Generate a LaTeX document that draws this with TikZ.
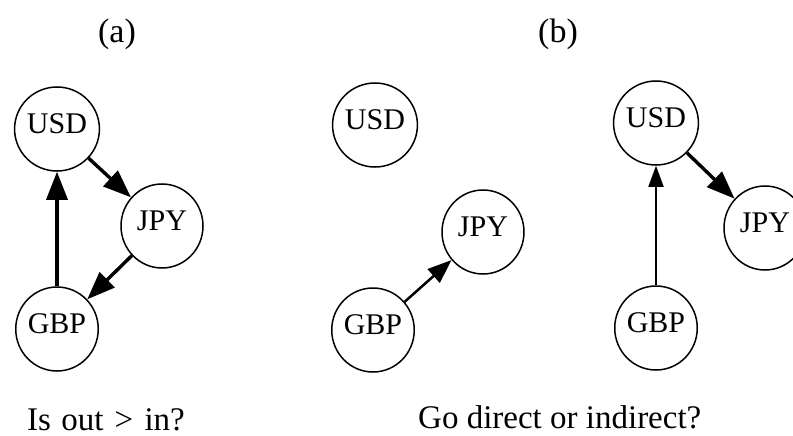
\documentclass[tikz,border=0pt]{standalone}
\usepackage{fontspec}
\setmainfont{Liberation Serif}
\usetikzlibrary{arrows.meta,shapes.geometric}
\tikzset{
  cur/.style={ellipse, draw, line width=1.5pt, minimum width=82pt, minimum height=84pt,
    inner sep=0pt, font=\fontsize{30}{34}\selectfont, text height=20pt, text depth=12pt},
  thick arr/.style={line width=3.4pt, -{Triangle[length=28pt,width=21pt]}},
  mid arr/.style={line width=2.5pt, -{Triangle[length=24pt,width=18pt]}},
  thin arr/.style={line width=1.8pt, -{Triangle[length=21pt,width=15pt]}},
  caption/.style={font=\fontsize{33}{38}\selectfont},
  panel/.style={font=\fontsize{34}{38}\selectfont, anchor=base}
}
\begin{document}
\begin{tikzpicture}[x=1pt,y=-1pt]
\useasboundingbox (0,0) rectangle (793,436);
% panel (a)
\node[cur] (aU) at (57,129) {USD};
\node[cur] (aJ) at (162,226) {JPY};
\node[cur] (aG) at (57,329) {GBP};
\draw[thick arr] (aU) -- (aJ);
\draw[thick arr] (aJ) -- (aG);
\draw[thick arr] (aG) -- (aU);
% panel (b) middle
\node[cur] (bU) at (375,125) {USD};
\node[cur] (bJ) at (483,232) {JPY};
\node[cur] (bG) at (373,330) {GBP};
\draw[mid arr] (bG) -- (bJ);
% panel (b) right
\node[cur] (cU) at (656,123) {USD};
\node[cur] (cJ) at (765,228) {JPY};
\node[cur] (cG) at (656,328) {GBP};
\draw[thin arr] (cG) -- (cU);
\draw[thick arr] (cU) -- (cJ);
% labels
\node[panel] (la) at (117,43) {(a)};
\node[panel] (lb) at (558,43) {(b)};
\node[caption, anchor=base west, inner sep=0pt] (ca) at (27,430) {Is\hspace{2pt} out\hspace{3pt} >\hspace{3pt} in?};
\node[caption, anchor=base west, inner sep=0pt] (cb) at (418,428) {Go direct or indirect?};
\end{tikzpicture}
\end{document}
